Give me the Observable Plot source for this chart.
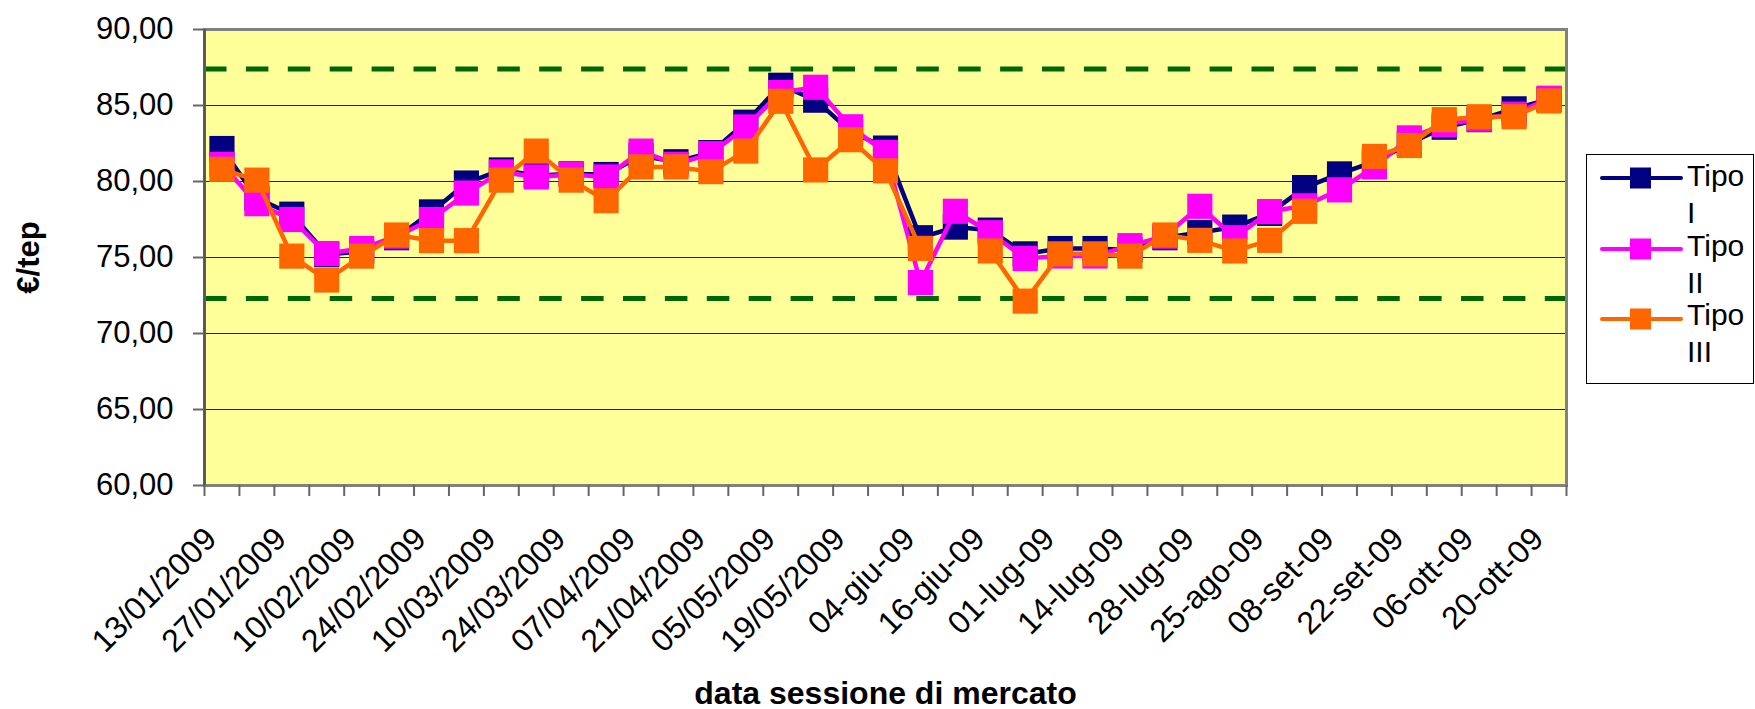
<!DOCTYPE html>
<html><head><meta charset="utf-8">
<script src="https://cdn.jsdelivr.net/npm/d3@7"></script>
<script src="https://cdn.jsdelivr.net/npm/@observablehq/plot@0.6"></script>
<style>
body{margin:0;background:#fff;}
#wrap{position:relative;width:1755px;height:709px;font-family:"Liberation Sans",Arial,sans-serif;}
#legend{position:absolute;left:1586px;top:154px;width:168px;height:230px;border:1px solid #000;box-sizing:border-box;background:#fff;}
#legend .sym{position:absolute;left:12px;}
#legend .txt{position:absolute;left:100px;width:66px;font-size:30px;line-height:37px;color:#000;}
</style></head><body><div id="wrap"></div>
<script>
const dates = ["13/01/2009","20/01/2009","27/01/2009","03/02/2009","10/02/2009","17/02/2009","24/02/2009","03/03/2009","10/03/2009","17/03/2009","24/03/2009","31/03/2009","07/04/2009","14/04/2009","21/04/2009","28/04/2009","05/05/2009","12/05/2009","19/05/2009","26/05/2009","04-giu-09","09-giu-09","16-giu-09","23-giu-09","01-lug-09","07-lug-09","14-lug-09","21-lug-09","28-lug-09","04-ago-09","25-ago-09","01-set-09","08-set-09","15-set-09","22-set-09","29-set-09","06-ott-09","13-ott-09","20-ott-09"];
const tipoI = [82.17,78.9,77.85,75.2,75.4,76.3,78.0,79.9,80.76,80.4,80.5,80.46,81.7,81.3,81.9,83.9,86.33,85.35,83.3,82.2,76.3,77.0,76.8,75.24,75.59,75.59,75.5,76.3,76.65,77.0,77.9,79.6,80.5,81.3,82.5,83.57,84.07,84.78,85.4];
const tipoII = [81.13,78.54,77.5,75.26,75.59,76.4,77.5,79.24,80.63,80.3,80.46,80.3,82.0,81.13,81.83,83.59,85.85,86.2,83.6,81.9,73.35,78.04,76.63,74.93,75.1,75.1,75.78,76.4,78.37,76.3,78.02,78.4,79.45,80.96,82.87,83.74,84.1,84.43,85.48];
const tipoIII = [80.8,80.09,75.09,73.52,75.09,76.48,76.11,76.11,80.09,82.0,80.09,78.74,80.96,80.96,80.65,82.0,85.28,80.76,82.75,80.7,75.6,null,75.43,72.13,75.24,75.24,75.09,76.48,76.13,75.43,76.13,78.04,null,81.65,82.37,84.07,84.26,84.26,85.3];
const yTicks = [60,65,70,75,80,85,90];
const bandLines = [87.4, 72.3];
const seriesNames = ["Tipo I","Tipo II","Tipo III"];
const seriesColors = ["#000080","#FF00FF","#FF6600"];
const seriesValues = [tipoI, tipoII, tipoIII];

const rows = seriesValues.map(vals => vals.map((v, i) => ({i, date: dates[i], v})));
const boundaries = d3.range(dates.length + 1).map(i => i - 0.5);
const labelTicks = dates.map((d, i) => i).filter(i => i % 2 === 0);
const fmt = d => d.toFixed(2).replace(".", ",");

const seriesMarks = rows.flatMap((data, k) => [
  Plot.line(data, {x: "i", y: "v", stroke: seriesColors[k], strokeWidth: 4.5, curve: "linear"}),
  Plot.dot(data.filter(d => d.v != null), {x: "i", y: "v", symbol: "square", r: 14.2, fill: seriesColors[k], stroke: "none"})
]);

const chart = Plot.plot({
  width: 1755, height: 709,
  marginLeft: 204, marginRight: 189, marginTop: 29, marginBottom: 224,
  style: {fontFamily: "Liberation Sans, Arial, sans-serif", background: "#fff", overflow: "visible"},
  x: {type: "linear", domain: [-0.5, dates.length - 0.5], label: null},
  y: {type: "linear", domain: [yTicks[0], yTicks[yTicks.length - 1]], label: null},
  marks: [
    Plot.frame({fill: "#FFFF99", stroke: "none"}),
    Plot.ruleY(yTicks.slice(1, -1), {stroke: "#222", strokeWidth: 1}),
    Plot.ruleY(bandLines, {stroke: "#006600", strokeWidth: 5, strokeDasharray: "22.5,19.4"}),
    Plot.frame({stroke: "#808080", strokeWidth: 3}),
    Plot.ruleX([-0.5], {stroke: "#555", strokeWidth: 2.5}),
    ...seriesMarks,
    Plot.axisY({ticks: yTicks, tickSize: 11, tickPadding: 20, tickFormat: fmt, fontSize: 31, stroke: "#666", strokeWidth: 2, fill: "#000", label: null}),
    Plot.axisX({ticks: boundaries, tickSize: 11, tickFormat: () => "", stroke: "#666", strokeWidth: 2, label: null}),
    Plot.axisX({ticks: labelTicks, tickSize: 0, tickPadding: 48, tickRotate: -45, dx: -11, tickFormat: i => dates[i], fontSize: 32, fill: "#000", label: null}),
    Plot.text(["€/tep"], {frameAnchor: "left", dx: -175, rotate: -90, fontSize: 31, fontWeight: "bold", fill: "#000", lineAnchor: "middle", textAnchor: "middle"}),
    Plot.text(["data sessione di mercato"], {frameAnchor: "bottom", dy: 208, fontSize: 32, fontWeight: "bold", fill: "#000", lineAnchor: "middle", textAnchor: "middle"})
  ]
});
const wrap = document.getElementById("wrap");
wrap.appendChild(chart);

// legend
const legend = document.createElement("div");
legend.id = "legend";
const symY = [23, 94, 164];
const txtTop = [2, 72, 141];
seriesNames.forEach((name, k) => {
  const sym = document.createElementNS("http://www.w3.org/2000/svg", "svg");
  sym.setAttribute("class", "sym");
  sym.setAttribute("width", 86); sym.setAttribute("height", 26);
  sym.style.top = (symY[k] - 13) + "px";
  sym.innerHTML = `<line x1="3" x2="82" y1="13" y2="13" stroke="${seriesColors[k]}" stroke-width="4" stroke-linecap="round"/><rect x="31" y="2.5" width="21" height="21" fill="${seriesColors[k]}"/>`;
  legend.appendChild(sym);
  const t = document.createElement("div");
  t.className = "txt";
  t.style.top = txtTop[k] + "px";
  t.textContent = name;
  legend.appendChild(t);
});
wrap.appendChild(legend);
</script>
</body></html>
